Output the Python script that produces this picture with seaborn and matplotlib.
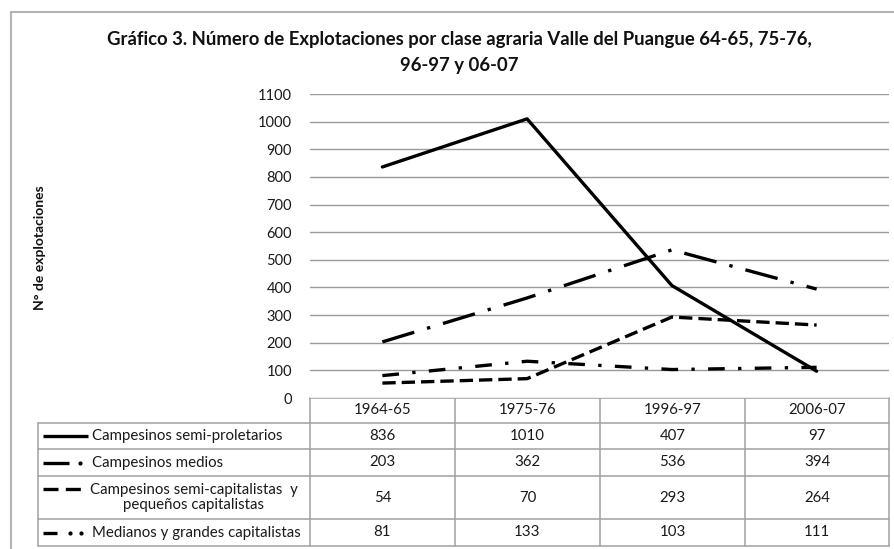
import matplotlib
matplotlib.use("Agg")
import matplotlib.pyplot as plt
import seaborn as sns
import pandas as pd

periods = ["1964-65", "1975-76", "1996-97", "2006-07"]
series_names = [
    "Campesinos semi-proletarios",
    "Campesinos medios",
    "Campesinos semi-capitalistas  y\npequeños capitalistas",
    "Medianos y grandes capitalistas",
]
semi_proletarios = [836, 1010, 407, 97]
medios = [203, 362, 536, 394]
semi_capitalistas = [54, 70, 293, 264]
medianos_grandes = [81, 133, 103, 111]
y_ticks = list(range(0, 1101, 100))

values = [semi_proletarios, medios, semi_capitalistas, medianos_grandes]
dash_styles = ["", (10, 4, 1, 4), (4, 1.8), (5, 4, 1, 4)]

rows = []
for name, vals in zip(series_names, values):
    for i, v in enumerate(vals):
        rows.append({"idx": i, "value": v, "series": name})
df = pd.DataFrame(rows)

sns.set_theme(style="white")
plt.rcParams["font.family"] = ["Lato", "DejaVu Sans"]

W, H = 895, 549
fig = plt.figure(figsize=(W / 100, H / 100), dpi=100)

# plot area in pixel coordinates
x0, x1 = 310, 889
y_top, y_bot = 94, 398
ax = fig.add_axes([x0 / W, 1 - y_bot / H, (x1 - x0) / W, (y_bot - y_top) / H])
sns.lineplot(data=df, x="idx", y="value", style="series", dashes=dict(zip(series_names, dash_styles)),
             color="black", linewidth=2.4, legend=False, ax=ax)
ax.set_xlim(-0.5, 3.5)
ax.set_ylim(0, 1100)
ax.set_yticks(y_ticks)
ax.set_yticklabels([str(t) for t in y_ticks], fontsize=10.5, color="#1a1a1a")
ax.set_xticks([])
ax.set_xlabel("")
ax.set_ylabel("")
ax.tick_params(axis="y", length=0, pad=13)
ax.yaxis.grid(True, color="#9a9a9a", linewidth=1.0)
for s in ax.spines.values():
    s.set_visible(False)

# overlay axes in pixel units for table, frame and titles
ov = fig.add_axes([0, 0, 1, 1], zorder=-1)
ov.set_xlim(0, W)
ov.set_ylim(H, 0)
ov.axis("off")

# outer chart frame
ov.plot([11, 11], [12, H], color="#b4b4b4", lw=1.5)
ov.plot([11, W], [12, 12], color="#b4b4b4", lw=1.5)

ov.text(459, 39, "Gráfico 3. Número de Explotaciones por clase agraria Valle del Puangue 64-65, 75-76,",
        ha="center", va="center", fontsize=13.3, fontweight="bold", color="#111111")
ov.text(459, 65, "96-97 y 06-07", ha="center", va="center", fontsize=13.3, fontweight="bold", color="#111111")
ov.text(40, 248, "N° de explotaciones", rotation=90, ha="center", va="center",
        fontsize=10, fontweight="bold", color="#111111")

# data table under the plot
col_edges = [310, 455, 600, 745, 889]
row_edges = [398, 423, 449, 476, 519, 546]
left = 38
gc = "#a0a0a0"
ov.plot([col_edges[0], col_edges[-1]], [row_edges[0]] * 2, color=gc, lw=1.1)
for ye in row_edges[1:]:
    ov.plot([left, col_edges[-1]], [ye, ye], color=gc, lw=1.1)
ov.plot([left, left], [row_edges[1], row_edges[-1]], color=gc, lw=1.1)
for xe in col_edges:
    ov.plot([xe, xe], [row_edges[0], row_edges[-1]], color=gc, lw=1.1)

txt_c = "#1a1a1a"
fs = 10.8
for j, p in enumerate(periods):
    xc = (col_edges[j] + col_edges[j + 1]) / 2
    ov.text(xc, (row_edges[0] + row_edges[1]) / 2, p, ha="center", va="center", fontsize=fs, color=txt_c)

row_y = [(row_edges[i + 1] + row_edges[i + 2]) / 2 for i in range(len(series_names))]
for i, (name, vals) in enumerate(zip(series_names, values)):
    yc = row_y[i]
    for j, v in enumerate(vals):
        xc = (col_edges[j] + col_edges[j + 1]) / 2
        ov.text(xc, yc, str(v), ha="center", va="center", fontsize=fs, color=txt_c)
    if "\n" in name:
        ov.text(194, yc, name, ha="center", va="center", fontsize=fs, color=txt_c, linespacing=1.15)
    else:
        ov.text(92, yc, name, ha="left", va="center", fontsize=fs, color=txt_c)

# legend samples inside the table's first column
lw = 2.4
ov.plot([43, 88], [row_y[0]] * 2, color="black", lw=lw, solid_capstyle="butt")
ov.plot([43, 69], [row_y[1]] * 2, color="black", lw=lw, solid_capstyle="butt")
ov.plot([80], [row_y[1]], "o", color="black", ms=2.0)
ov.plot([43, 86], [row_y[2] - 9] * 2, color="black", lw=lw, linestyle=(0, (4.5, 2.2)))
ov.plot([43, 57], [row_y[3]] * 2, color="black", lw=lw, solid_capstyle="butt")
ov.plot([70, 81], [row_y[3]] * 2, "o", color="black", ms=2.0, linestyle="none")

fig.savefig("out.png", dpi=100)
